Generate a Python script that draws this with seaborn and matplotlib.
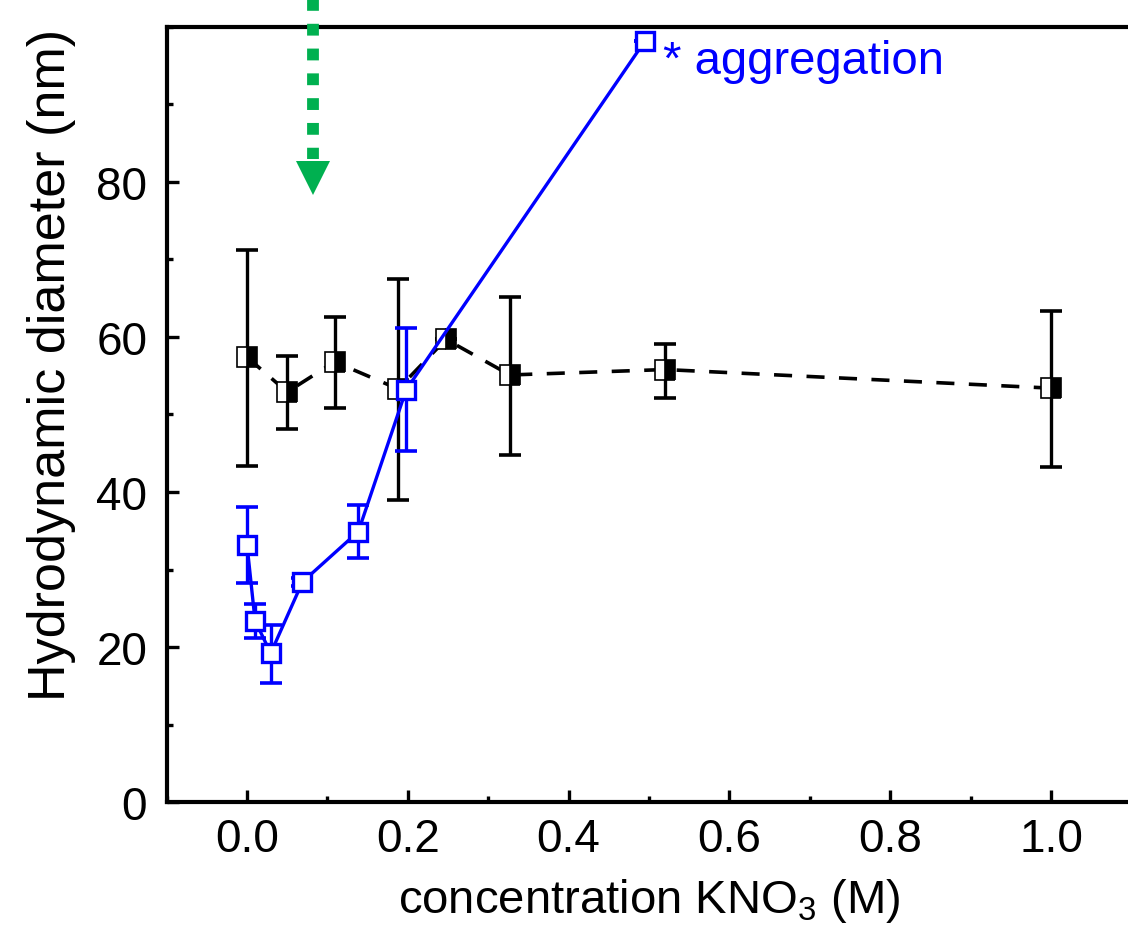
import numpy as np
import pandas as pd
import matplotlib
matplotlib.use("Agg")
import matplotlib.pyplot as plt
import seaborn as sns
from matplotlib.ticker import MultipleLocator

# ---- data ----
conc_black = [0.0, 0.050, 0.109, 0.188, 0.2475, 0.327, 0.52, 1.0]
diam_black = [57.4, 52.9, 56.8, 53.3, 59.7, 55.1, 55.8, 53.4]
hi_black = [71.2, 57.5, 62.6, 67.5, 59.7, 65.1, 59.1, 63.3]
lo_black = [43.3, 48.1, 50.9, 39.0, 59.7, 44.8, 52.1, 43.2]

conc_blue = [0.0, 0.010, 0.0295, 0.069, 0.1385, 0.198, 0.495]
diam_blue = [33.2, 23.4, 19.2, 28.4, 34.9, 53.2, 98.2]
hi_blue = [38.1, 25.5, 22.9, 28.9, 38.3, 61.1, 98.2]
lo_blue = [28.2, 21.2, 15.3, 27.9, 31.5, 45.3, 98.2]

xticks = [0.0, 0.2, 0.4, 0.6, 0.8, 1.0]
yticks = [0, 20, 40, 60, 80]
arrow_x = 0.082
annot_text = "* aggregation"

sns.set_theme(style="ticks")
plt.rcParams["font.family"] = ["Liberation Sans", "DejaVu Sans"]
plt.rcParams["mathtext.fontset"] = "custom"
plt.rcParams["mathtext.rm"] = "Liberation Sans"
plt.rcParams["mathtext.it"] = "Liberation Sans:italic"
plt.rcParams["mathtext.default"] = "regular"
plt.rcParams["text.color"] = "black"
plt.rcParams["axes.labelcolor"] = "black"
plt.rcParams["xtick.color"] = "black"
plt.rcParams["ytick.color"] = "black"

fig = plt.figure(figsize=(11.28, 9.29), dpi=100)
ax = fig.add_axes([0.1477, 0.1356, 0.8553, 0.8343])

df_black = pd.DataFrame({"x": conc_black, "y": diam_black})
df_blue = pd.DataFrame({"x": conc_blue, "y": diam_blue})

# black dashed series
sns.lineplot(data=df_black, x="x", y="y", ax=ax, color="black", lw=2.6,
             sort=False, estimator=None, zorder=2)
ax.lines[-1].set_dashes((5, 4))
yerr_b = [np.array(diam_black) - np.array(lo_black), np.array(hi_black) - np.array(diam_black)]
ax.errorbar(conc_black, diam_black, yerr=yerr_b, fmt="none", ecolor="black",
            elinewidth=2.4, capsize=8, capthick=2.6, zorder=3)
ax.plot(conc_black, diam_black, ls="none", marker="s", markersize=14.5,
        fillstyle="right", markerfacecolor="black", markerfacecoloralt="white",
        markeredgecolor="black", markeredgewidth=1.2, zorder=4)

# blue series
sns.lineplot(data=df_blue, x="x", y="y", ax=ax, color="#0000FF", lw=2.4,
             sort=False, estimator=None, zorder=5)
yerr_bl = [np.array(diam_blue) - np.array(lo_blue), np.array(hi_blue) - np.array(diam_blue)]
ax.errorbar(conc_blue, diam_blue, yerr=yerr_bl, fmt="none", ecolor="#0000FF",
            elinewidth=2.4, capsize=8, capthick=2.6, zorder=6)
ax.plot(conc_blue, diam_blue, ls="none", marker="s", markersize=13,
        markerfacecolor="white", markeredgecolor="#0000FF",
        markeredgewidth=2.4, zorder=7, clip_on=False)

ax.text(0.518, 94.1, annot_text, color="#0000FF", fontsize=34, va="baseline", ha="left")

# green dotted arrow
ax.plot([arrow_x, arrow_x], [104.5, 83.0], color="#00B050", lw=8.5,
        dashes=(1.0, 1.1), solid_capstyle="butt", dash_capstyle="butt",
        clip_on=False, zorder=10)
ax.plot([arrow_x], [80.5], marker="v", markersize=25, color="#00B050",
        markeredgewidth=0, clip_on=False, zorder=10)

ax.set_xlim(-0.1, 1.1)
ax.set_ylim(0, 100)
ax.set_xticks(xticks)
ax.set_xticklabels([f"{t:.1f}" for t in xticks])
ax.set_yticks(yticks)
ax.xaxis.set_minor_locator(MultipleLocator(0.1))
ax.yaxis.set_minor_locator(MultipleLocator(10))
ax.tick_params(which="both", direction="in", width=2.4, labelsize=33,
               color="black", labelcolor="black")
ax.tick_params(which="major", length=8.5)
ax.tick_params(axis="x", which="major", pad=11)
ax.tick_params(axis="y", which="major", pad=14)
ax.tick_params(which="minor", length=4.5)
ax.tick_params(axis="x", which="both", top=False)
ax.tick_params(axis="y", which="both", right=False)

for s in ax.spines.values():
    s.set_linewidth(3.0)
    s.set_color("black")
ax.spines["right"].set_visible(False)

ax.set_xlabel("concentration KNO$_3$ (M)", fontsize=34, color="black")
ax.set_ylabel("Hydrodynamic diameter (nm)", fontsize=37.5, color="black")
ax.xaxis.set_label_coords(0.5, -0.095)
ax.yaxis.set_label_coords(-0.094, 0.565)

fig.patch.set_facecolor("white")
ax.set_facecolor("white")
fig.savefig("out.png", dpi=100)
